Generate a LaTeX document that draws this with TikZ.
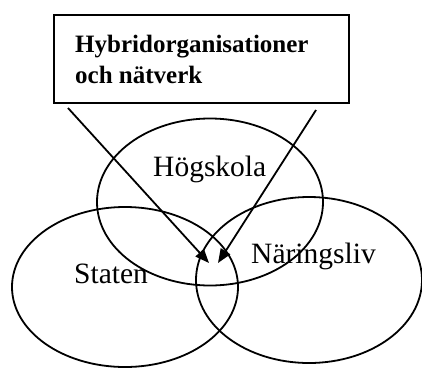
\documentclass[tikz,border=0pt]{standalone}
\usepackage{fontspec}
\setmainfont{Liberation Serif}
\usetikzlibrary{shapes.geometric,arrows.meta}
\begin{document}
\begin{tikzpicture}[x=1pt,y=-1pt,
  ring/.style={draw,line width=1.8pt,ellipse,inner sep=0pt},
  lbl/.style={font=\fontsize{29.5}{34}\selectfont,inner sep=0pt,anchor=base west},
  conn/.style={line width=1.8pt,-{Triangle[length=14pt,width=11pt]}}]
\useasboundingbox (0,0) rectangle (422,367);
\node[ring,minimum width=226pt,minimum height=167pt] (hog) at (210,202) {};
\node[ring,minimum width=226pt,minimum height=160pt] (sta) at (125,287) {};
\node[ring,minimum width=226pt,minimum height=166pt] (nar) at (309,280) {};
\node[lbl] (thog) at (153,176) {Högskola};
\node[lbl] (tsta) at (74,283) {Staten};
\node[lbl] (tnar) at (251,263) {Näringsliv};
\node[draw,line width=1.8pt,minimum width=295pt,minimum height=88pt,inner sep=0pt] (box) at (201.5,59) {};
\node[font=\bfseries\fontsize{25}{31}\selectfont,align=left,inner sep=0pt,anchor=west] (title) at (75,59) {Hybridorganisationer\\och nätverk};
\coordinate (s1) at (68,108);
\coordinate (s2) at (316,110);
\coordinate (e1) at (209,263);
\coordinate (e2) at (218,263);
\draw[conn] (s1) -- (e1);
\draw[conn] (s2) -- (e2);
\end{tikzpicture}
\end{document}
